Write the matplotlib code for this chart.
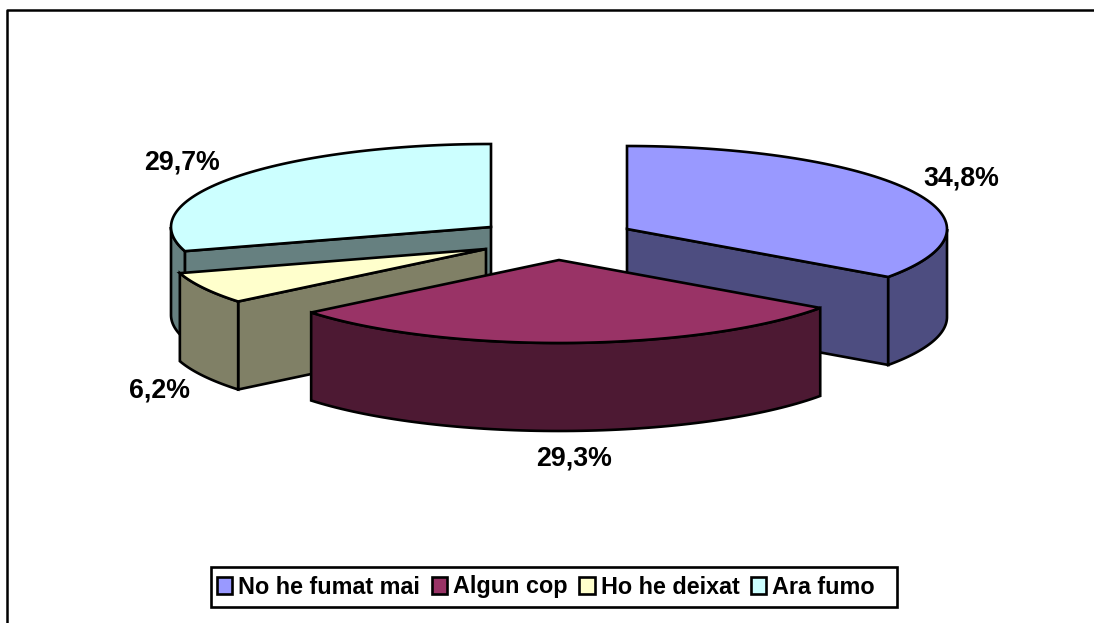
import numpy as np
import matplotlib
matplotlib.use('Agg')
import matplotlib.pyplot as plt
from matplotlib.patches import Polygon, Patch, Rectangle

labels = ['No he fumat mai', 'Algun cop', 'Ho he deixat', 'Ara fumo']
values = [34.8, 29.3, 6.2, 29.7]
value_text = ['34,8%', '29,3%', '6,2%', '29,7%']
top_colors = ['#9999FF', '#993366', '#FFFFCC', '#CCFFFF']
side_colors = ['#4D4D80', '#4D1933', '#808066', '#668080']

# apex of each exploded slice, in pixels
apex = [(627, 229), (559, 260), (486, 249), (491, 227)]
label_pos = [(961, 179), (574, 459), (159, 391), (182, 163)]
RX, RY, DEPTH = 320, 83, 88
LW = 1.9


def point(c, ang, down=0):
    a = np.radians(ang)
    return c[0] + RX * np.sin(a), c[1] - RY * np.cos(a) + down


def arc(c, a0, a1, down=0):
    angs = np.linspace(a0, a1, 80)
    return [point(c, a, down) for a in angs]


def poly(ax, pts, color, z):
    ax.add_patch(Polygon(pts, closed=True, facecolor=color, edgecolor='black',
                         linewidth=LW, joinstyle='miter', zorder=z))


fig = plt.figure(figsize=(10.94, 6.23), dpi=100)
ax = fig.add_axes([0, 0, 1, 1])
ax.set_xlim(0, 1094)
ax.set_ylim(623, 0)
ax.axis('off')

# chart border, right and bottom sides fall off the picture
ax.plot([7, 7, 1094], [623, 10, 10], color='black', linewidth=1.8, zorder=1)

edges = np.cumsum([0] + values) / sum(values) * 360
# back slices first, the front one last
order = [3, 0, 2, 1]
z = 2
for i in order:
    a0, a1 = edges[i], edges[i + 1]
    c = apex[i]
    # cut faces that look towards the viewer
    if 0 < a1 < 180:
        p = point(c, a1)
        poly(ax, [c, p, (p[0], p[1] + DEPTH), (c[0], c[1] + DEPTH)], side_colors[i], z)
    if 180 < a0 < 360:
        p = point(c, a0)
        poly(ax, [c, p, (p[0], p[1] + DEPTH), (c[0], c[1] + DEPTH)], side_colors[i], z)
    # outer wall, only the front half of the rim shows
    w0, w1 = max(a0, 90), min(a1, 270)
    if w1 > w0:
        poly(ax, arc(c, w0, w1) + arc(c, w1, w0, DEPTH), side_colors[i], z)
    poly(ax, [c] + arc(c, a0, a1), top_colors[i], z)
    z += 1

for txt, pos in zip(value_text, label_pos):
    ax.text(pos[0], pos[1], txt, ha='center', va='center', fontsize=19.3,
            fontweight='bold', family='Liberation Sans', color='black', zorder=10)

# legend box is wider than its entries on the right, so it is drawn by hand
ax.add_patch(Rectangle((211, 567), 686, 40, facecolor='white', edgecolor='black',
                       linewidth=1.9, zorder=9))
handles = [Patch(facecolor=col, edgecolor='black', linewidth=LW) for col in top_colors]
leg = ax.legend(handles, labels, ncol=4, loc='center left',
                bbox_to_anchor=(217 / 1094, 1 - 587 / 623), frameon=False,
                handlelength=0.66, handleheight=0.72,
                handletextpad=0.25, columnspacing=0.5, borderpad=0, borderaxespad=0,
                prop={'family': 'Liberation Sans', 'weight': 'bold', 'size': 16.8})
leg.set_zorder(10)

fig.savefig('out.png', dpi=100)
